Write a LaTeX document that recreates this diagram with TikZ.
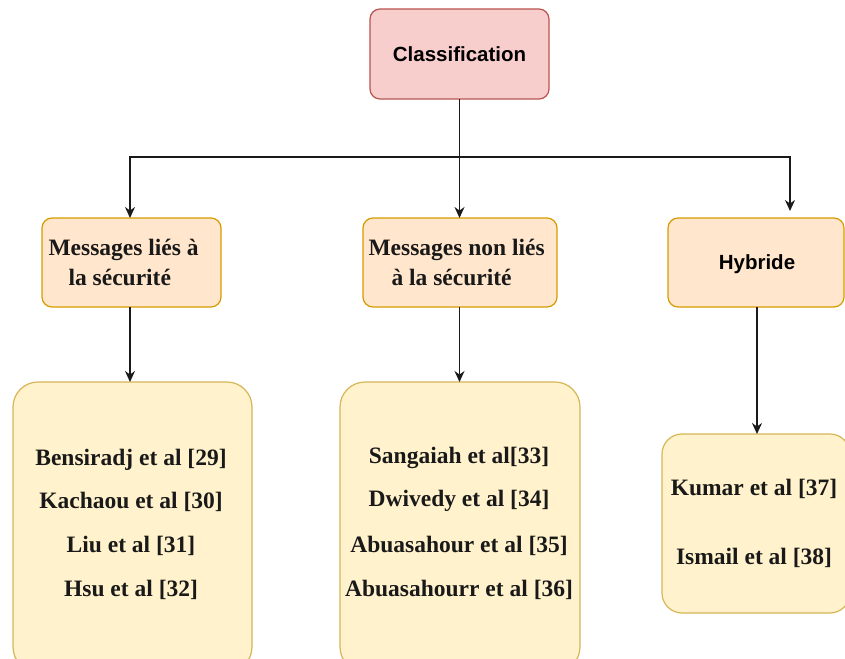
\documentclass[tikz,border=0pt]{standalone}
\usepackage{fontspec}
\setmainfont{Liberation Serif}
\newfontfamily\lsans{Liberation Sans}
\usetikzlibrary{arrows.meta}
\definecolor{redfill}{HTML}{F8CECC}
\definecolor{redline}{HTML}{B85450}
\definecolor{orfill}{HTML}{FFE6CC}
\definecolor{orline}{HTML}{D79B00}
\definecolor{yefill}{HTML}{FFF2CC}
\definecolor{yeline}{HTML}{D6B656}
\definecolor{edge}{HTML}{1A1A1A}
\begin{document}
\begin{tikzpicture}[x=1pt,y=-1pt,
  rootbox/.style={draw=redline,fill=redfill,line width=1.2pt,rounded corners=10pt},
  catbox/.style={draw=orline,fill=orfill,line width=1.2pt,rounded corners=10pt},
  refbox/.style={draw=yeline,fill=yefill,line width=1.2pt,rounded corners=25pt},
  sanslbl/.style={font=\lsans\fontsize{20.5}{24}\selectfont\bfseries,text=black},
  seriflbl/.style={font=\fontsize{23.5}{27}\selectfont\bfseries,text=black!90},
  arr/.style={draw=edge,line width=1.5pt,-{Stealth[length=11pt,width=10pt]}},
  ln/.style={draw=edge,line width=1.5pt}]
\useasboundingbox (0,0) rectangle (845,658);
% boxes
\draw[rootbox] (370,9) rectangle (549,99);
\node[sanslbl] (cls) at (459.5,54) {Classification};
\coordinate (clsS) at (459.5,99);

\draw[catbox] (42,218) rectangle (221,307);
\node[seriflbl,anchor=west] (m1a) at (45,250) {Messages liés à};
\node[seriflbl,anchor=west] (m1b) at (65,277) {la sécurité};
\coordinate (m1N) at (130,218);
\coordinate (m1S) at (130,307);

\draw[catbox] (363,218) rectangle (557,307);
\node[seriflbl,anchor=west] (m2a) at (365,250) {Messages non liés};
\node[seriflbl,anchor=west] (m2b) at (388,277) {à la sécurité};
\coordinate (m2N) at (459.5,218);
\coordinate (m2S) at (459.5,307);

\draw[catbox] (668,218) rectangle (844,307);
\node[sanslbl] (hyb) at (757,264) {Hybride};
\coordinate (hybN) at (790,211);
\coordinate (hybS) at (757,307);

\draw[refbox] (13,382) rectangle (252,672);
\node[seriflbl] (r29) at (131,460) {Bensiradj et al [29]};
\node[seriflbl] (r30) at (131,502) {Kachaou et al [30]};
\node[seriflbl] (r31) at (131,546) {Liu et al [31]};
\node[seriflbl] (r32) at (131,590) {Hsu et al [32]};
\coordinate (aN) at (130,382);

\draw[refbox] (340,382) rectangle (580,672);
\node[seriflbl] (r33) at (459,458) {Sangaiah et al[33]};
\node[seriflbl] (r34) at (459,501) {Dwivedy et al [34]};
\node[seriflbl] (r35) at (459,546) {Abuasahour et al [35]};
\node[seriflbl] (r36) at (459,590) {Abuasahourr et al [36]};
\coordinate (bN) at (459.5,382);

\draw[draw=yeline,fill=yefill,line width=1.2pt,rounded corners=20pt] (662,434) rectangle (850,613);
\node[seriflbl] (r37) at (754,489) {Kumar et al [37]};
\node[seriflbl] (r38) at (754,558) {Ismail et al [38]};
\coordinate (cN) at (757,434);

% connectors
\coordinate (bus) at (459.5,157);
\draw[ln] (clsS) -- (bus);
\draw[arr] (bus) -| (m1N);
\draw[arr] (bus) -- (m2N);
\draw[arr] (bus) -| (hybN);
\draw[arr] (m1S) -- (aN);
\draw[arr] (m2S) -- (bN);
\draw[arr] (hybS) -- (cN);
\end{tikzpicture}
\end{document}
